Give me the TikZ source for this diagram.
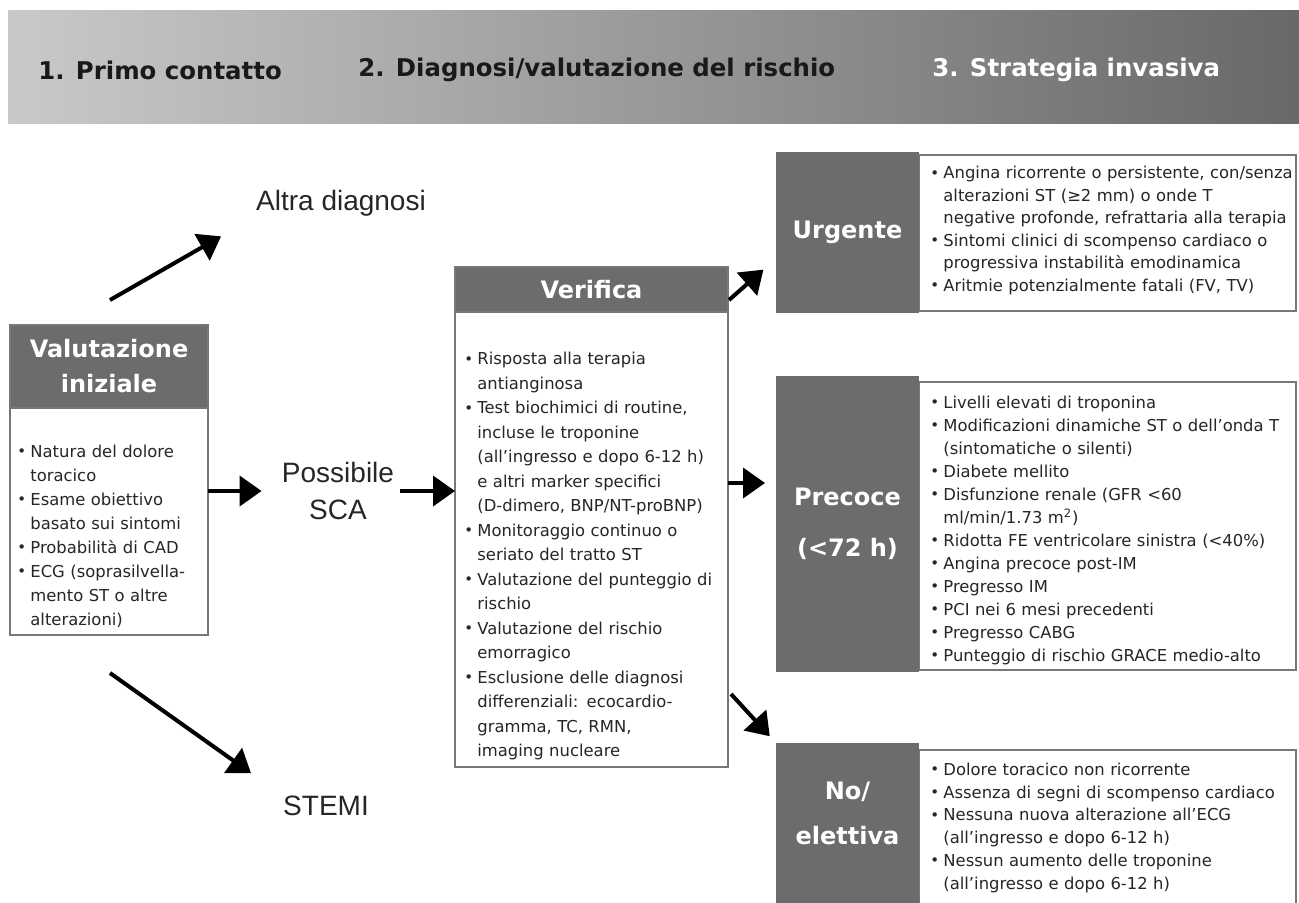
\documentclass[tikz,border=0pt]{standalone}
\usepackage{fontspec}
\setmainfont{DejaVu Sans}
\newfontfamily\arialfont{Liberation Sans}
\usetikzlibrary{positioning,calc,arrows.meta}

\definecolor{hdrgray}{RGB}{108,108,108}
\definecolor{boxline}{RGB}{120,120,120}
\definecolor{bandl}{RGB}{201,201,201}
\definecolor{bandm}{RGB}{178,178,178}
\definecolor{bandr}{RGB}{104,104,104}

% bullet item with hanging indent
\newcommand{\itm}{\par\hangindent=6.5pt\hangafter=1\noindent
  \makebox[6.5pt][l]{\raisebox{0.3pt}{\fontsize{7.5}{7.5}\selectfont •}}}

\begin{document}
\begin{tikzpicture}[x=0.5pt,y=-0.5pt]
    \tikzstyle{hdr} = [rectangle,fill=hdrgray,draw=boxline,line width=0.6pt,
    text=white,font=\bfseries\fontsize{12}{17.5}\selectfont,align=center,
    inner sep=0pt,outer sep=0pt,anchor=north west];
    \tikzstyle{dark} = [rectangle,fill=hdrgray,text=white,
    font=\bfseries\fontsize{12}{25.5}\selectfont,align=center,inner sep=0pt,
    outer sep=0pt,anchor=north west,minimum width=71.5pt];
    \tikzstyle{body} = [rectangle,fill=white,draw=boxline,line width=0.6pt,
    inner sep=0pt,outer sep=0pt];
    \tikzstyle{txt} = [anchor=north west,inner sep=0pt,text width=200pt,
    align=left,text=black!85,font=\fontsize{8.2}{12}\selectfont];
    \tikzstyle{lbl} = [inner sep=0pt,align=center,text=black!85,
    font=\arialfont\fontsize{14}{18.5}\selectfont];
    \tikzstyle{stage} = [anchor=west,inner sep=0pt,
    font=\bfseries\fontsize{12.2}{14}\selectfont];
    \tikzstyle{flow} = [line width=2pt,-{Triangle[length=11pt,width=15pt]}];

    \useasboundingbox (0,0) rectangle (1299,902);
    \clip (0,0) rectangle (1299,902);

    % phases
    \shade[left color=bandl,middle color=bandm,right color=bandr]
    (8,10) rectangle (1305,123);
    \node[stage,name=stage1,text=black!90] at (38,70) {1. Primo contatto};
    \node[stage,name=stage2,text=black!90] at (358,70) {2. Diagnosi/valutazione del rischio};
    \node[stage,name=stage3,text=white] at (932,70) {3. Strategia invasiva};

    % first contact
    \node[hdr,name=valhdr,minimum width=99pt,minimum height=41.5pt] at (10,325)
    {Valutazione\\iniziale};
    \node[body,name=valbody,below=0pt of valhdr,minimum width=99pt,
    minimum height=113.5pt] {};
    \node[txt,name=valtxt,font=\fontsize{8.2}{12}\selectfont]
    at ($(valbody.north west)+(7,25)$) {%
      \itm Natura del dolore\newline toracico
      \itm Esame obiettivo\newline basato sui sintomi
      \itm Probabilità di CAD
      \itm ECG (soprasilvella-\newline mento ST o altre\newline alterazioni)\par};

    \node[lbl,name=altra] at (341,203) {Altra diagnosi};
    \node[lbl,name=sca,inner sep=3pt] at (338,491) {Possibile\\SCA};
    \node[lbl,name=stemi] at (326,806) {STEMI};

    % diagnosis
    \node[hdr,name=verhdr,minimum width=136.5pt,minimum height=22.5pt] at (455,267)
    {Verifica};
    \node[body,name=verbody,below=0pt of verhdr,minimum width=136.5pt,
    minimum height=227.5pt] {};
    \node[txt,name=vertxt,font=\fontsize{8.2}{12.25}\selectfont]
    at ($(verbody.north west)+(9,28)$) {%
      \itm Risposta alla terapia\newline antianginosa
      \itm Test biochimici di routine,\newline incluse le troponine\newline
      (all’ingresso e dopo 6-12 h)\newline e altri marker specifici\newline
      (D-dimero, BNP/NT-proBNP)
      \itm Monitoraggio continuo o\newline seriato del tratto ST
      \itm Valutazione del punteggio di\newline rischio
      \itm Valutazione del rischio\newline emorragico
      \itm Esclusione delle diagnosi\newline differenziali: ecocardio-\newline
      gramma, TC, RMN,\newline imaging nucleare\par};

    % invasive strategy
    \node[body,name=urgbox,anchor=north west,minimum width=188.5pt,
    minimum height=78pt] at (919,155) {};
    \node[dark,name=urgdark,minimum height=80.5pt] at (776,152) {Urgente};
    \node[txt,name=urgtxt,font=\fontsize{8.2}{11.25}\selectfont]
    at ($(urgbox.north west)+(11,1)$) {%
      \itm Angina ricorrente o persistente, con/senza\newline
      alterazioni ST (≥2 mm) o onde T\newline
      negative profonde, refrattaria alla terapia
      \itm Sintomi clinici di scompenso cardiaco o\newline
      progressiva instabilità emodinamica
      \itm Aritmie potenzialmente fatali (FV, TV)\par};

    \node[body,name=precbox,anchor=north west,minimum width=188.5pt,
    minimum height=144pt] at (919,382) {};
    \node[dark,name=precdark,minimum height=148pt] at (776,376) {Precoce\\(<72 h)};
    \node[txt,name=prectxt,font=\fontsize{8.2}{11.5}\selectfont]
    at ($(precbox.north west)+(11,3)$) {%
      \itm Livelli elevati di troponina
      \itm Modificazioni dinamiche ST o dell’onda T\newline
      (sintomatiche o silenti)
      \itm Diabete mellito
      \itm Disfunzione renale (GFR <60\newline ml/min/1.73 m\textsuperscript{2})
      \itm Ridotta FE ventricolare sinistra (<40\%)
      \itm Angina precoce post-IM
      \itm Pregresso IM
      \itm PCI nei 6 mesi precedenti
      \itm Pregresso CABG
      \itm Punteggio di rischio GRACE medio-alto\par};

    \node[body,name=nobox,anchor=north west,minimum width=188.5pt,
    minimum height=85pt] at (919,750) {};
    \node[dark,name=nodark,minimum height=88pt] at (776,743) {};
    \node[text=white,align=center,inner sep=0pt,name=nolbl,
    font=\bfseries\fontsize{12}{22.5}\selectfont]
    at ($(nodark.north)+(0,70)$) {No/\\elettiva};
    \node[txt,name=notxt,font=\fontsize{8.2}{11.4}\selectfont]
    at ($(nobox.north west)+(11,2)$) {%
      \itm Dolore toracico non ricorrente
      \itm Assenza di segni di scompenso cardiaco
      \itm Nessuna nuova alterazione all’ECG\newline
      (all’ingresso e dopo 6-12 h)
      \itm Nessun aumento delle troponine\newline
      (all’ingresso e dopo 6-12 h)\par};

    % connectors
    \coordinate (altrastart) at (110,300);
    \coordinate (stemistart) at (110,673);
    \coordinate (verurg) at (729,300);
    \coordinate (verprec) at (728,483);
    \coordinate (verno) at (731,694);

    \path (altrastart) edge[flow,shorten >=20pt] (altra.south west);
    \path (stemistart) edge[flow,shorten >=19.5pt] (stemi.north west);
    \path (valbody.east |- sca) edge[flow,shorten >=7pt] (sca.west);
    \path (sca.east) edge[flow] (sca.east -| verbody.west);
    \path (verurg) edge[flow,shorten >=8.4pt] (urgdark.200);
    \path (verprec) edge[flow,shorten >=5.5pt] (verprec -| precdark.west);
    \path (verno) edge[flow,shorten >=4.6pt] (nodark.north west);

\end{tikzpicture}
\end{document}
